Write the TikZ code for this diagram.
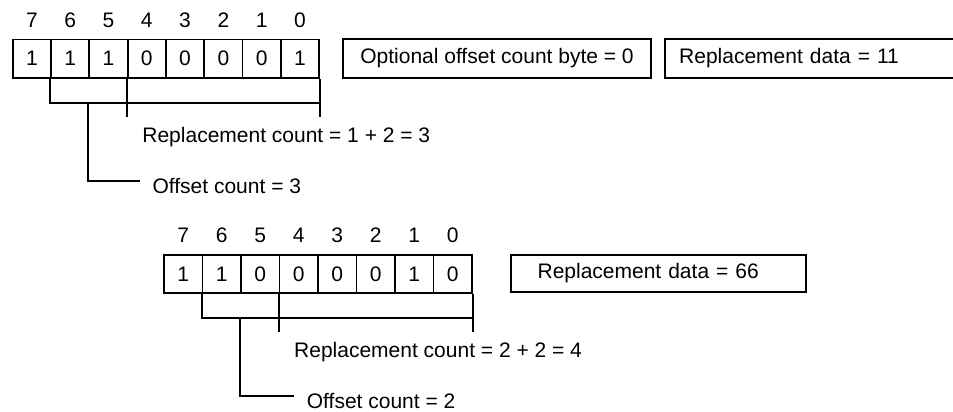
\documentclass[tikz,border=0pt]{standalone}
\usepackage{fontspec}
\setmainfont{Liberation Sans}
\begin{document}
\begin{tikzpicture}[x=0.5pt,y=-0.5pt,line width=0.9pt,
    cell/.style={draw,minimum width=19.2pt,minimum height=19.25pt,inner sep=0pt},
    bitnum/.style={inner sep=0pt},
    note/.style={anchor=west,inner sep=0pt},
    databox/.style={draw,minimum height=19.2pt,align=left}]
    \tikzstyle{every node}=[font=\fontsize{10.5}{12.5}\selectfont]
    \clip (0,0) rectangle (953,412);
    % upper byte
    \foreach \b/\v [count=\i from 0] in {7/1,6/1,5/1,4/0,3/0,2/0,1/0,0/1} {
      \node[cell] (a\b) at (31.85+38.3*\i, 58.7) {\v};
      \node[bitnum] (na\b) at (31.85+38.3*\i, 20) {\b};
    }
    \node[databox,minimum width=153.7pt] (opta) at (497,58.5) {Optional offset count byte = 0};
    \node[databox,anchor=west,inner xsep=7.15pt,text width=150pt] (rdata) at (664,58.5) {Replacement data = 11};
    \coordinate (bra) at (0,103);
    \coordinate (tka) at (0,117);
    \node[note] (repa) at (141.5,137) {Replacement count = 1 + 2 = 3};
    \node[note] (offa) at (151.7,186) {Offset count = 3};
    \draw (a6.south west) -- (a6.south west |- bra) -- (a0.south east |- bra);
    \draw (a4.south west) -- (a4.south west |- tka);
    \draw (a0.south east) -- (a0.south east |- tka);
    \draw (a5.south west |- bra) |- ([xshift=-6pt,yshift=2.5pt]offa.west);
    % lower byte
    \foreach \b/\v [count=\i from 0] in {7/1,6/1,5/0,4/0,3/0,2/0,1/1,0/0} {
      \node[cell] (b\b) at (183.25+38.5*\i, 274) {\v};
      \node[bitnum] (nb\b) at (183.25+38.5*\i, 235) {\b};
    }
    \node[databox,anchor=west,minimum height=18.5pt,inner xsep=13.35pt,text width=120.8pt] (rdatb) at (510,273.5) {Replacement data = 66};
    \coordinate (brb) at (0,318.3);
    \coordinate (tkb) at (0,331.7);
    \node[note] (repb) at (293.3,352) {Replacement count = 2 + 2 = 4};
    \node[note] (offb) at (306,401) {Offset count = 2};
    \draw (b6.south west) -- (b6.south west |- brb) -- (b0.south east |- brb);
    \draw (b4.south west) -- (b4.south west |- tkb);
    \draw (b0.south east) -- (b0.south east |- tkb);
    \draw (b5.south west |- brb) |- ([xshift=-6pt,yshift=2.5pt]offb.west);
\end{tikzpicture}
\end{document}
